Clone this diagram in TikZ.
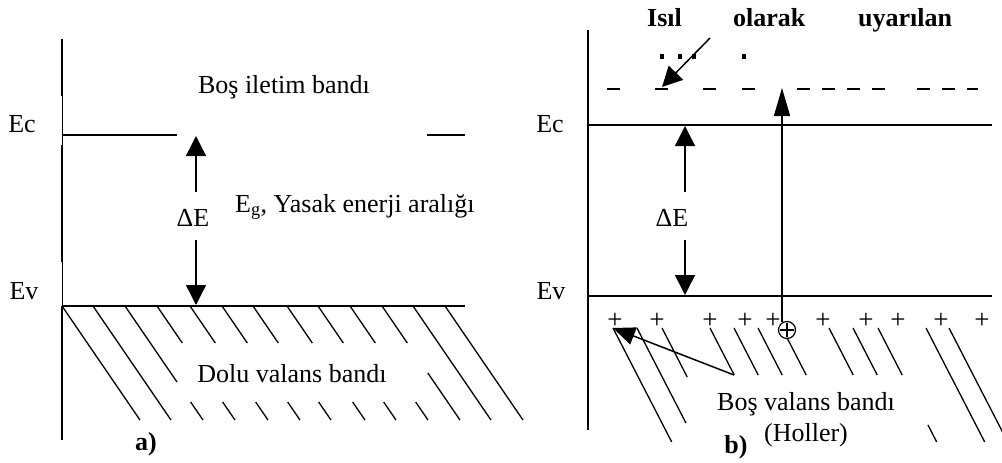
\documentclass[tikz,border=0pt]{standalone}
\usepackage{fontspec}
\setmainfont{Liberation Serif}
\usetikzlibrary{arrows.meta}
\begin{document}
\begin{tikzpicture}[x=1pt,y=-1pt,
  axisline/.style={line width=2pt},
  thinaxis/.style={line width=1pt},
  levelline/.style={line width=2pt},
  hatchline/.style={line width=1.3pt},
  dashmark/.style={line width=1.3pt},
  bigarrow/.style={line width=1.5pt,-{Triangle[length=20pt,width=20pt]}},
  longarrow/.style={line width=1.5pt,-{Triangle[length=28pt,width=16pt]}},
  holearrow/.style={line width=1.5pt,-{Triangle[length=22pt,width=18pt]}},
  lbl/.style={font=\fontsize{26}{30}\selectfont, inner sep=0pt},
  blbl/.style={font=\fontsize{26}{30}\selectfont\bfseries, inner sep=0pt},
  plusmark/.style={font=\fontsize{27}{30}\selectfont, inner sep=0pt, anchor=center}
]
\useasboundingbox (0,0) rectangle (1002,463);

% ================= panel a =================
% axis
\draw[axisline] (62,39) -- (62,96);
\draw[thinaxis] (62,96) -- (62,145);
\draw[axisline] (62,145) -- (62,262);
\draw[thinaxis] (62,262) -- (62,306);
\draw[axisline] (62,306) -- (62,440);
% levels
\draw[levelline] (62,135) -- (177,135);
\draw[levelline] (427,135) -- (465,135);
\draw[levelline] (62,306) -- (465,306);
% labels
\node[lbl,anchor=base] (Eca) at (22,132) {Ec};
\node[lbl,anchor=base] (Eva) at (24,299) {Ev};
\node[lbl,anchor=base] (cba) at (284,93) {Boş iletim bandı};
\node[lbl,anchor=base west] (gap) at (235,212) {E\textsubscript{g}, Yasak enerji aralığı};
\node[lbl,anchor=base] (dEa) at (193,226) {ΔE};
\node[lbl,anchor=base] (vba) at (292,382) {Dolu valans bandı};
\node[blbl,anchor=base] (lba) at (146,450) {a)};
% delta E arrows
\coordinate (a1) at (196,192);
\coordinate (a2) at (196,136);
\coordinate (a3) at (196,240);
\coordinate (a4) at (196,305);
\draw[bigarrow] (a1) -- (a2);
\draw[bigarrow] (a3) -- (a4);
% hatching
\def\ka{0.684}
\foreach \s in {62,93,413,445}
  \draw[hatchline] ({\s+\ka*(307-306)},307) -- ({\s+\ka*(420-306)},420);
\draw[hatchline] ({125+\ka*(307-306)},307) -- ({125+\ka*(382-306)},382);
\draw[hatchline] ({125+\ka*(402-306)},402) -- ({125+\ka*(420-306)},420);
\foreach \s in {157,190,222,253,287,318,350}{
  \draw[hatchline] ({\s+\ka*(307-306)},307) -- ({\s+\ka*(343-306)},343);
  \draw[hatchline] ({\s+\ka*(402-306)},402) -- ({\s+\ka*(420-306)},420);
}
\draw[hatchline] ({382+\ka*(307-306)},307) -- ({382+\ka*(343-306)},343);
\draw[hatchline] ({382+\ka*(373-306)},373) -- ({382+\ka*(420-306)},420);

% ================= panel b =================
\draw[axisline] (588,30) -- (588,430);
\draw[levelline] (588,125) -- (992,125);
\draw[levelline] (588,296) -- (992,296);
\node[lbl,anchor=base] (Ecb) at (550,132) {Ec};
\node[lbl,anchor=base] (Evb) at (551,299) {Ev};
\node[lbl,anchor=base] (dEb) at (672,226) {ΔE};
\node[blbl,anchor=base west] (t1) at (647,27) {Isıl};
\node[blbl,anchor=base west] (t2) at (733,27) {olarak};
\node[blbl,anchor=base west] (t3) at (858,27) {uyarılan};
% clipped fragments of the second text line
\foreach \x in {660,678,692,742}
  \fill (\x,54) rectangle (\x+3.5,59);
% excited electrons (dashes)
\foreach \a/\b in {607/620,655/668,703/716,742/755,797/810,822/835,847/860,872/885,917/930,942/955,967/978}
  \draw[dashmark] (\a,89) -- (\b,89);
\coordinate (e1) at (662,87);
% arrow from text to electrons
\coordinate (t0) at (710,38);
\draw[bigarrow] (t0) -- (e1);
% delta E arrows
\coordinate (b1) at (685,192);
\coordinate (b2) at (685,126);
\coordinate (b3) at (685,240);
\coordinate (b4) at (685,295);
\draw[bigarrow] (b1) -- (b2);
\draw[bigarrow] (b3) -- (b4);
% holes
\foreach \x [count=\i] in {615,657,710,745,773,823,866,898,941,982}
  \node[plusmark] (p\i) at (\x,321) {+};
\node[circle,draw,line width=1.2pt,minimum size=17pt,inner sep=0pt] (hole) at (787,330) {};
\draw[line width=1.1pt] (780,330) -- (794,330) (787,323) -- (787,337);
% excitation arrow
\coordinate (x1) at (782,322);
\coordinate (x2) at (782,88);
\draw[longarrow] (x1) -- (x2);
% hatching
\def\kb{0.515}
\foreach \s/\a/\b in {613/328/442,637/328/423,662/328/377,710/328/375,734/328/375,758/328/375,782/338/375,829/328/375,853/328/375,878/328/375,878/425/442,926/328/442,949/328/442}
  \draw[hatchline] ({\s+\kb*(\a-328)},\a) -- ({\s+\kb*(\b-328)},\b);
% arrow to holes
\coordinate (v0) at (734,375);
\coordinate (v1) at (613,328);
\draw[holearrow] (v0) -- (v1);
\node[lbl,anchor=base] (vbb) at (806,410) {Boş valans bandı};
\node[lbl,anchor=base] (hol) at (806,441) {(Holler)};
\node[blbl,anchor=base] (lbb) at (736,453) {b)};
\end{tikzpicture}
\end{document}
